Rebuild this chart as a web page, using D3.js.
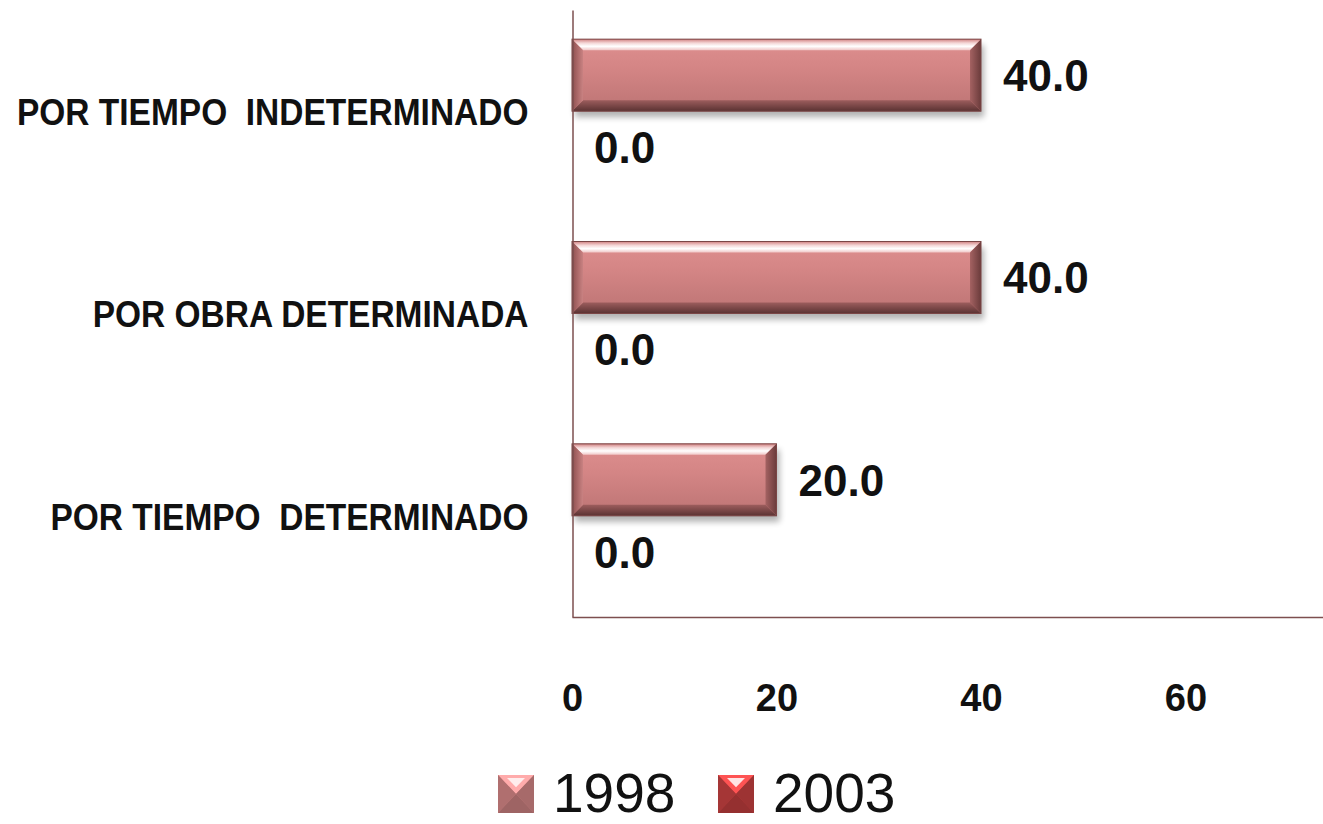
<!DOCTYPE html>
<html>
<head>
<meta charset="utf-8">
<script src="https://cdn.jsdelivr.net/npm/d3@7"></script>
<style>
  body { margin: 0; padding: 0; background: #ffffff; }
  text { font-family: "Liberation Sans", Arial, sans-serif; }
</style>
</head>
<body>
<div id="chart"></div>
<script>
const width = 1323;
const height = 824;

// data (top to bottom)
const categories = ["POR TIEMPO  INDETERMINADO", "POR OBRA DETERMINADA", "POR TIEMPO  DETERMINADO"];
const seriesNames = ["1998", "2003"];
const values1998 = [40.0, 40.0, 20.0];
const values2003 = [0.0, 0.0, 0.0];
const xTicks = [0, 20, 40, 60];

const seriesColors = { "1998": "#c47c7c", "2003": "#b83c3c" };
const axisColor = "#7d4f4f";
const bevel = 11;

const svg = d3
  .select("#chart")
  .append("svg")
  .attr("width", width)
  .attr("height", height)
  .style("background-color", "white");

const defs = svg.append("defs");

// soft shadow under the bars
const shadow = defs.append("filter").attr("id", "shadow").attr("x", "-10%").attr("y", "-30%").attr("width", "130%").attr("height", "180%");
shadow.append("feGaussianBlur").attr("stdDeviation", 3);

// gradients for the bevel faces
function vGrad(id, stops) {
  const g = defs.append("linearGradient").attr("id", id)
    .attr("x1", "0%").attr("x2", "0%").attr("y1", "0%").attr("y2", "100%");
  stops.forEach(function (s) {
    g.append("stop").attr("offset", s[0]).attr("stop-color", s[1]);
  });
}
function hGrad(id, stops) {
  const g = defs.append("linearGradient").attr("id", id)
    .attr("x1", "0%").attr("x2", "100%").attr("y1", "0%").attr("y2", "0%");
  stops.forEach(function (s) {
    g.append("stop").attr("offset", s[0]).attr("stop-color", s[1]);
  });
}
vGrad("topBev", [["0%", "#d08080"], ["35%", "#f4d6d6"], ["65%", "#ffffff"], ["100%", "#f0c6c6"]]);
vGrad("face", [["0%", "#de8f8f"], ["40%", "#d48585"], ["100%", "#bc7474"]]);
vGrad("botBev", [["0%", "#9c5d5d"], ["100%", "#5a3232"]]);
hGrad("leftBev", [["0%", "#8d4f4f"], ["100%", "#c98282"]]);
hGrad("rightBev", [["0%", "#a46262"], ["100%", "#6a3b3b"]]);

// scales
const x = d3.scaleLinear().domain([0, 80]).range([572, 1390]);

const y = d3.scaleBand().domain(categories).range([10, 617]).padding(0);

const ySub = d3.scaleBand().domain(seriesNames).range([0, y.bandwidth()]).paddingInner(0).paddingOuter(0.405);

// flatten into bars
const bars = [];
categories.forEach(function (c, i) {
  bars.push({ category: c, series: "1998", value: values1998[i] });
  bars.push({ category: c, series: "2003", value: values2003[i] });
});

// bars
const barG = svg.append("g").attr("class", "bars");

const barGroups = barG.selectAll("g.bar")
  .data(bars.filter(function (d) { return x(d.value) - x(0) > 0; }))
  .enter()
  .append("g")
  .attr("class", "bar")
  .attr("transform", function (d) {
    return "translate(" + x(0) + "," + (y(d.category) + ySub(d.series)) + ")";
  });

barGroups.each(function (d) {
  const g = d3.select(this);
  const w = x(d.value) - x(0);
  const h = ySub.bandwidth();
  const b = bevel;

  g.append("rect")
    .attr("x", 3).attr("y", 6)
    .attr("width", w).attr("height", h)
    .attr("fill", "#000")
    .attr("opacity", 0.3)
    .attr("filter", "url(#shadow)");

  g.append("rect")
    .attr("width", w).attr("height", h)
    .attr("fill", "url(#face)");

  const pts = {
    top: [[0, 0], [w, 0], [w - b, b], [b, b]],
    bottom: [[0, h], [w, h], [w - b, h - b], [b, h - b]],
    left: [[0, 0], [b, b], [b, h - b], [0, h]],
    right: [[w, 0], [w - b, b], [w - b, h - b], [w, h]]
  };
  const fills = { top: "url(#topBev)", bottom: "url(#botBev)", left: "url(#leftBev)", right: "url(#rightBev)" };

  Object.keys(pts).forEach(function (k) {
    g.append("polygon")
      .attr("points", pts[k].map(function (p) { return p.join(","); }).join(" "))
      .attr("fill", fills[k]);
  });

  g.append("rect")
    .attr("width", w).attr("height", h)
    .attr("fill", "none")
    .attr("stroke", "#7a4545")
    .attr("stroke-width", 1);
});

// value labels
svg.append("g")
  .selectAll("text")
  .data(bars)
  .enter()
  .append("text")
  .attr("x", function (d) { return x(d.value) + 22; })
  .attr("y", function (d) { return y(d.category) + ySub(d.series) + ySub.bandwidth() / 2; })
  .attr("dy", "0.36em")
  .style("font-size", "44px")
  .style("font-weight", "bold")
  .style("fill", "#111")
  .text(function (d) { return d.value.toFixed(1); });

// x axis
const xAxis = svg.append("g")
  .attr("transform", "translate(0,617)")
  .call(d3.axisBottom(x).tickValues(xTicks).tickSize(0).tickSizeOuter(0).tickPadding(67));

xAxis.select(".domain").attr("stroke", axisColor).attr("stroke-width", 1.5);
xAxis.selectAll("text")
  .style("font-size", "38px")
  .style("font-weight", "bold")
  .style("font-family", "'Liberation Sans', Arial, sans-serif")
  .attr("fill", "#111");

// y axis
const yAxis = svg.append("g")
  .attr("transform", "translate(572.5,0)")
  .call(d3.axisLeft(y).tickSize(0).tickSizeOuter(0).tickPadding(44));

yAxis.select(".domain").attr("stroke", axisColor).attr("stroke-width", 1.5);
yAxis.selectAll("text")
  .attr("dy", "0.38em")
  .style("white-space", "pre")
  .style("font-size", "36px")
  .style("font-weight", "bold")
  .style("font-family", "'Liberation Sans', Arial, sans-serif")
  .attr("fill", "#111")
  .each(function () {
    // source font is narrower than Liberation Sans
    const len = this.getComputedTextLength();
    d3.select(this).attr("textLength", len * 0.93).attr("lengthAdjust", "spacingAndGlyphs");
  });

// legend
const legendX = [498, 718];
const legend = svg.append("g").attr("class", "legend");

const items = legend.selectAll("g")
  .data(seriesNames)
  .enter()
  .append("g")
  .attr("transform", function (d, i) { return "translate(" + legendX[i] + ",775)"; });

items.each(function (d) {
  const g = d3.select(this);
  const s = 36, h = 38;
  const base = d3.color(seriesColors[d]);
  g.append("rect").attr("width", s).attr("height", h).attr("fill", base);
  g.append("polygon").attr("points", [[0, 0], [s, 0], [s / 2, h / 2]].join(" "))
    .attr("fill", base.brighter(0.9));
  g.append("polygon").attr("points", [[s * 0.25, 3], [s * 0.75, 3], [s / 2, h * 0.32]].join(" "))
    .attr("fill", "#fff4f4").attr("opacity", 0.9);
  g.append("polygon").attr("points", [[0, h], [s, h], [s / 2, h / 2]].join(" "))
    .attr("fill", base.darker(0.6));
  g.append("polygon").attr("points", [[0, 0], [0, h], [s / 2, h / 2]].join(" "))
    .attr("fill", base.darker(0.3));
  g.append("polygon").attr("points", [[s, 0], [s, h], [s / 2, h / 2]].join(" "))
    .attr("fill", base.darker(0.45));
  g.append("text")
    .attr("x", s + 19)
    .attr("y", 37)
    .style("font-size", "55px")
    .style("fill", "#111")
    .text(d);
});
</script>
</body>
</html>
